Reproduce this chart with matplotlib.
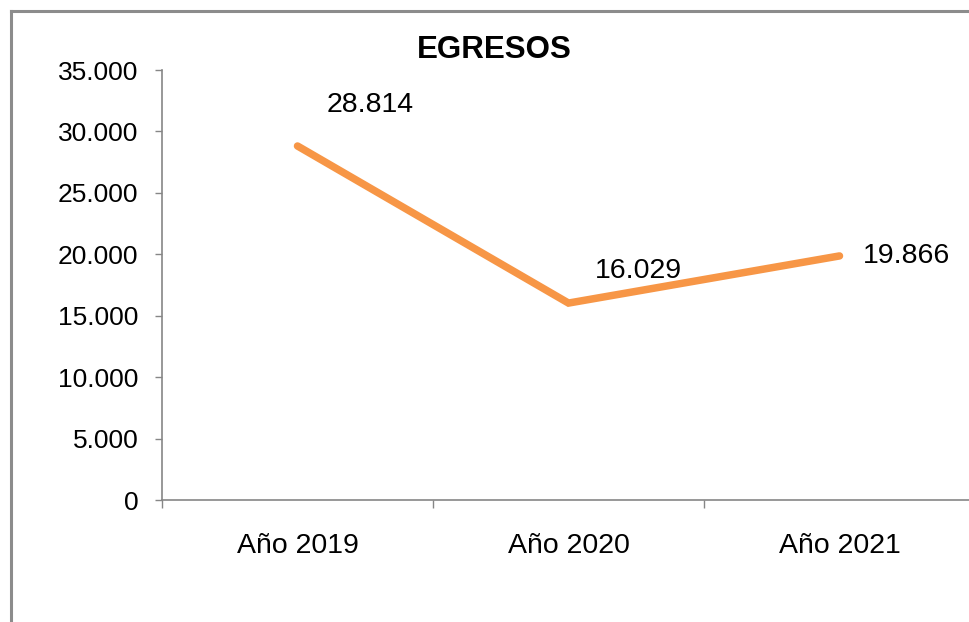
import matplotlib.pyplot as plt
from matplotlib.lines import Line2D

plt.rcParams["font.family"] = ["Liberation Sans", "DejaVu Sans"]

years = ["Año 2019", "Año 2020", "Año 2021"]
egresos = [28814, 16029, 19866]
labels = ["28.814", "16.029", "19.866"]
yticks = [0, 5000, 10000, 15000, 20000, 25000, 30000, 35000]
ytick_labels = ["0", "5.000", "10.000", "15.000", "20.000", "25.000", "30.000", "35.000"]

W, H = 970, 622
fig = plt.figure(figsize=(W / 100, H / 100), dpi=100)
ax = fig.add_axes([162 / W, 1 - 500 / H, (975 - 162) / W, 430 / H])

x = list(range(len(years)))
ax.plot(x, egresos, color="#F79646", linewidth=5.4, solid_capstyle="round",
        solid_joinstyle="miter", clip_on=False)

# data labels, offsets in pixels (right, up)
offsets = [(29, 41), (26, 32), (23, 0)]
for xi, v, lab, (dx, dy) in zip(x, egresos, labels, offsets):
    ax.annotate(lab, (xi, v), xytext=(dx * 0.72, dy * 0.72), textcoords="offset points",
                ha="left", va="center", fontsize=20.5, color="black")

ax.set_xlim(-0.5, 2.5)
ax.set_ylim(0, 35000)
ax.set_xticks(x)
ax.set_xticklabels(years)
ax.set_xticks([-0.5, 0.5, 1.5, 2.5], minor=True)
ax.set_yticks(yticks)
ax.set_yticklabels(ytick_labels)

ax.tick_params(axis="x", which="major", length=0, pad=24, labelsize=20.5)
ax.tick_params(axis="x", which="minor", length=6, width=1, color="#868686", direction="out")
ax.tick_params(axis="y", length=5, width=1, color="#868686", direction="out",
               pad=12, labelsize=19)

for side in ["top", "right"]:
    ax.spines[side].set_visible(False)
for side in ["left", "bottom"]:
    ax.spines[side].set_color("#868686")
    ax.spines[side].set_linewidth(1.2)

fig.text(494 / W, 1 - 50 / H, "EGRESOS", ha="center", va="center",
         fontsize=22.5, fontweight="bold")

# outer chart frame (left and top edges visible)
frame_col = "#8C8C8C"
fig.add_artist(Line2D([11 / W, 11 / W], [0, 1 - 11 / H], transform=fig.transFigure,
                      color=frame_col, linewidth=2.2))
fig.add_artist(Line2D([11 / W, 1], [1 - 11 / H, 1 - 11 / H], transform=fig.transFigure,
                      color=frame_col, linewidth=2.2))

fig.savefig("out.png", dpi=100)
